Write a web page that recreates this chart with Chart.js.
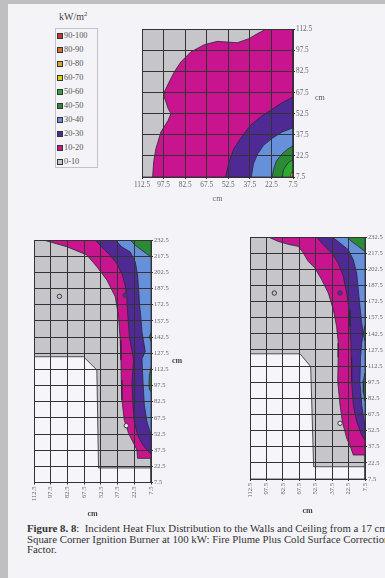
<!DOCTYPE html>
<html>
<head>
<meta charset="utf-8">
<script src="https://cdn.jsdelivr.net/npm/chart.js@4.4.1/dist/chart.umd.min.js"></script>
<style>
  html, body { margin: 0; padding: 0; }
  body { width: 385px; height: 578px; overflow: hidden; background: #bfbfc2; position: relative; font-family: "Liberation Serif", "DejaVu Serif", serif; }
  #page { position: absolute; left: 8px; top: 4px; right: 0; bottom: 0; background: #f4f3f8; }
  canvas { position: absolute; }
  .lbl { position: absolute; color: #555; font-size: 8px; }
  .bold { font-weight: bold; color: #444; }
  #legendTitle { position: absolute; left: 59px; top: 10px; font-size: 10px; color: #444; }
  #legendTitle sup { font-size: 6.5px; }
  #legend { position: absolute; left: 55px; top: 28px; width: 41px; height: 138px; border: 1px solid #c4c4c8; }
  .row { position: absolute; left: 1px; height: 10px; font-size: 8.3px; color: #555; line-height: 10px; white-space: nowrap; }
  .sw { display: inline-block; width: 4px; height: 4px; border: 1px solid #333; margin-right: 1px; vertical-align: -1px; }
  #caption { position: absolute; left: 27px; top: 523px; font-size: 10.8px; line-height: 10.6px; color: #333; white-space: nowrap; }
</style>
</head>
<body>
<div id="page"></div>
<div id="legendTitle">kW/m<sup>2</sup></div>
<div id="legend"></div>
<canvas id="ceiling" width="230" height="182" style="left:112px;top:24px"></canvas>
<canvas id="wallA" width="167" height="289" style="left:14px;top:233px"></canvas>
<canvas id="wallB" width="165" height="289" style="left:230px;top:230px"></canvas>
<div class="lbl" style="left:315px;top:93px">cm</div>
<div class="lbl bold" style="left:172px;top:356px">cm</div>
<div id="caption"><b>Figure 8. 8</b>:&nbsp; Incident Heat Flux Distribution to the Walls and Ceiling from a 17 cm<br>Square Corner Ignition Burner at 100 kW: Fire Plume Plus Cold Surface Correction<br>Factor.</div>
<script>
// flux bands (kW/m2) shown in the legend
const bandLabels = ['90-100', '80-90', '70-80', '60-70', '50-60', '40-50', '30-40', '20-30', '10-20', '0-10'];
const bandColors = ['#bb3b2c', '#d27132', '#dba62a', '#d9d21c', '#2eaa33', '#2b8a35', '#6690da', '#4f2a94', '#c8148f', '#c6c5c9'];
const cutoutColor = '#f6f5f9';

// tick positions (cm)
const xTicks = [112.5, 97.5, 82.5, 67.5, 52.5, 37.5, 22.5, 7.5];
const ceilingYTicks = [7.5, 22.5, 37.5, 52.5, 67.5, 82.5, 97.5, 112.5];
const wallYTicks = [7.5, 22.5, 37.5, 52.5, 67.5, 82.5, 97.5, 112.5, 127.5, 142.5, 157.5, 172.5, 187.5, 202.5, 217.5, 232.5];

// ceiling contours, [x cm, y cm]
const ceilAll = [[112.5, 7.5], [112.5, 112.5], [7.5, 112.5], [7.5, 7.5]];
const ceil10 = [[105.1, 7.5], [104.4, 18.3], [102.8, 27.8], [99.3, 39.6], [94.3, 47.8], [92.4, 52.6], [94.3, 56.1], [96.6, 63.2], [97, 68], [93.6, 75.1], [90.1, 82.2], [85.5, 89.3], [78.6, 96.4], [69.3, 101.6], [60.1, 104], [53.2, 103.5], [46.3, 103], [38.2, 105.9], [32.4, 109.4], [26.6, 112.5], [7.5, 112.5], [7.5, 7.5]];
const ceil20 = [[54.3, 7.5], [52, 18.2], [48.6, 27.7], [44, 34.8], [37, 44.3], [30.1, 50.2], [23.2, 54.9], [16.3, 59.6], [7.5, 64.4], [7.5, 7.5]];
const ceil30 = [[36.5, 7.5], [35, 17], [32, 24], [28, 30], [22, 35], [15, 39.5], [7.5, 42.5], [7.5, 7.5]];
const ceil40 = [[22, 7.5], [21, 13], [19, 19], [15, 24], [11, 27.5], [7.5, 29.5], [7.5, 7.5]];
const ceil50 = [[15, 7.5], [14, 13], [11, 17.5], [7.5, 20], [7.5, 7.5]];
const ceil60 = [[9.3, 7.5], [9, 10], [7.5, 11], [7.5, 7.5]];

// left wall contours
const wallAll = [[112.5, 7.5], [112.5, 232.5], [7.5, 232.5], [7.5, 7.5]];
const wallA_cut = [[112.5, 124.2], [68.1, 124.2], [56.1, 111.9], [54.6, 21], [7.5, 21], [7.5, 7.5], [112.5, 7.5]];
const wallA10 = [[104, 232.5], [83.1, 226.3], [65.1, 218.6], [56.1, 207.7], [47.1, 195.4], [39.6, 179.9], [36.6, 161.3], [35.1, 139.7], [34.5, 121.1], [34.2, 102.6], [33.6, 84], [31.5, 65.5], [27.6, 53.1], [23.1, 43.8], [20.1, 37.6], [19.5, 29.9], [7.5, 29.9], [7.5, 232.5]];
const wallA20 = [[57.6, 232.5], [51.6, 226], [44.1, 218.3], [38.1, 210.5], [33.6, 201.2], [30.6, 190.5], [29.1, 178], [28.5, 165.7], [27.6, 153.3], [26.7, 140.9], [24.6, 130.1], [23.1, 120.9], [24.6, 101], [23.7, 79.4], [22.5, 63.9], [19.5, 51.5], [15.6, 43.8], [11.1, 37.6], [7.5, 33.9], [7.5, 232.5]];
const wallA30 = [[39.6, 232.5], [33.6, 226], [26.1, 221.4], [21.6, 212.1], [19.5, 199.7], [18.6, 187.3], [17.7, 171.9], [16.5, 159.5], [15.6, 147.1], [12.6, 129], [15.6, 122.3], [14.7, 101], [13.5, 79.4], [11.1, 63.9], [7.5, 51.5], [7.5, 232.5]];
const wallA40 = [[26.1, 232.5], [21.6, 227.6], [15.6, 222.9], [9.6, 218.3], [7.5, 217], [7.5, 232.5]];
const wallA40b = [[7.5, 114], [9, 107], [9.3, 100], [9, 94], [7.5, 92]];
const wallA40c = [[7.5, 146], [9.2, 142.5], [7.5, 139]];
const wallA_probes = [[89.7, 180.2], [30.6, 181.2], [29.7, 60.2]];

// right wall contours
const wallB_cut = [[112.5, 123.9], [66.8, 123.9], [57.1, 112], [54.4, 18.9], [7.5, 18.9], [7.5, 7.5], [112.5, 7.5]];
const wallB10 = [[95.8, 232.5], [86.7, 228.4], [76, 225.3], [68.4, 223.8], [63.8, 217.6], [59.3, 209.8], [53.2, 203.6], [47, 192.7], [41, 180.4], [36.4, 164.8], [33.4, 149.3], [31.9, 133.8], [32, 120.5], [32.4, 98.1], [30.3, 76.4], [28.2, 60.8], [24.2, 45.4], [20.3, 36.1], [18.2, 29.8], [7.5, 29.8], [7.5, 232.5]];
const wallB20 = [[51.6, 232.5], [45.6, 225.3], [37.9, 217.6], [31.9, 208.3], [27.3, 195.8], [24.2, 180.4], [22.1, 164.8], [21.2, 149.3], [20.3, 133.8], [20, 120.5], [19.7, 98.1], [18.2, 76.4], [15.1, 60.8], [10.5, 48.4], [7.5, 43.8], [7.5, 232.5]];
const wallB30 = [[37.4, 232.5], [30.3, 226.9], [22.8, 220.7], [18.2, 211.4], [15.1, 199], [13.6, 183.4], [12.1, 167.9], [10.5, 152.4], [9, 143.1], [10.5, 133.8], [11.6, 120.5], [12.1, 98.1], [10.5, 76.4], [8.1, 60.8], [7.5, 56], [7.5, 232.5]];
const wallB40 = [[24.2, 232.5], [19.7, 228.4], [13.6, 223.8], [7.5, 219.1], [7.5, 232.5]];
const wallB40b = [[7.5, 150], [9.3, 143], [7.5, 136]];
const wallB40c = [[7.5, 106], [9, 99], [9, 88], [7.5, 80]];
const wallB_probes = [[90.3, 180.4], [30.3, 180.4], [30.3, 59.3]];
const probeFill = ['#c9c8cc', '#5a2f8e', '#ececf0'];

// legend
const legendEl = document.getElementById('legend');
bandLabels.forEach((lab, i) => {
    const row = document.createElement('div');
    row.className = 'row';
    row.style.top = (2 + i * 13.97) + 'px';
    row.innerHTML = '<span class="sw" style="background:' + bandColors[i] + '"></span>' + lab;
    legendEl.appendChild(row);
});

function band(name) {
    return bandColors[bandLabels.indexOf(name)];
}

function polygon(points, color) {
    const pts = points.map(p => ({x: p[0], y: p[1]}));
    pts.push({x: points[0][0], y: points[0][1]});
    return {
        data: pts,
        backgroundColor: color,
        borderColor: '#2b2638',
        borderWidth: 0.8,
        pointRadius: 0,
        fill: 'shape'
    };
}

function contourChart(id, layers, probes, yTicks, opts) {
    const datasets = layers.map((l, i) => {
        const ds = polygon(l[0], l[1]);
        ds.order = layers.length - i + 1;
        return ds;
    });
    if (probes) {
        datasets.push({
            data: probes.map(p => ({x: p[0], y: p[1]})),
            showLine: false,
            pointRadius: 2.2,
            pointBorderWidth: 1,
            pointBorderColor: '#3a3540',
            pointBackgroundColor: probeFill,
            order: 0
        });
    }
    const tickFont = {family: '"Liberation Serif", serif', size: opts.tickSize};
    return new Chart(document.getElementById(id), {
        type: 'line',
        data: {datasets: datasets},
        options: {
            responsive: false,
            animation: false,
            devicePixelRatio: 1,
            events: [],
            layout: {padding: {left: opts.padLeft, top: opts.padTop, right: 0, bottom: 0}},
            plugins: {legend: {display: false}, tooltip: {enabled: false}},
            scales: {
                x: {
                    type: 'linear', reverse: true, min: 7.5, max: 112.5,
                    afterBuildTicks: s => { s.ticks = xTicks.map(v => ({value: v})); },
                    afterFit: s => { s.height = opts.xHeight; },
                    grid: {color: '#333', lineWidth: 1, z: 1, tickLength: 2},
                    border: {color: '#333', z: 1},
                    ticks: {
                        autoSkip: false, color: '#666', font: tickFont, padding: 2,
                        minRotation: opts.rotate, maxRotation: opts.rotate,
                        callback: v => String(v)
                    },
                    title: {display: true, text: 'cm', color: opts.titleColor, padding: {top: 0, bottom: opts.titlePad},
                        font: {family: '"Liberation Serif", serif', size: 8, weight: opts.titleWeight}}
                },
                y: {
                    type: 'linear', position: 'right', min: yTicks[0], max: yTicks[yTicks.length - 1],
                    afterBuildTicks: s => { s.ticks = yTicks.map(v => ({value: v})); },
                    afterFit: s => { s.width = opts.yWidth; },
                    grid: {color: '#333', lineWidth: 1, z: 1, tickLength: 2},
                    border: {color: '#333', z: 1},
                    ticks: {autoSkip: false, color: '#666', font: tickFont, padding: 1, callback: v => String(v)}
                }
            }
        }
    });
}

contourChart('ceiling', [
    [ceilAll, band('0-10')],
    [ceil10, band('10-20')],
    [ceil20, band('20-30')],
    [ceil30, band('30-40')],
    [ceil40, band('40-50')],
    [ceil50, band('50-60')],
    [ceil60, band('60-70')]
], null, ceilingYTicks, {padLeft: 30, padTop: 5, xHeight: 29, yWidth: 49, tickSize: 7.3, rotate: 0, titlePad: 2, titleColor: '#666', titleWeight: 'normal'});

contourChart('wallA', [
    [wallAll, band('0-10')],
    [wallA_cut, cutoutColor],
    [wallA10, band('10-20')],
    [wallA20, band('20-30')],
    [wallA30, band('30-40')],
    [wallA40, band('40-50')],
    [wallA40b, band('40-50')],
    [wallA40c, band('40-50')]
], wallA_probes, wallYTicks, {padLeft: 20, padTop: 7, xHeight: 39.5, yWidth: 30, tickSize: 6.5, rotate: 90, titlePad: 3, titleColor: '#444', titleWeight: 'bold'});

contourChart('wallB', [
    [wallAll, band('0-10')],
    [wallB_cut, cutoutColor],
    [wallB10, band('10-20')],
    [wallB20, band('20-30')],
    [wallB30, band('30-40')],
    [wallB40, band('40-50')],
    [wallB40b, band('40-50')],
    [wallB40c, band('40-50')]
], wallB_probes, wallYTicks, {padLeft: 20, padTop: 7, xHeight: 40, yWidth: 30, tickSize: 6.5, rotate: 90, titlePad: 3, titleColor: '#444', titleWeight: 'bold'});
</script>
</body>
</html>
